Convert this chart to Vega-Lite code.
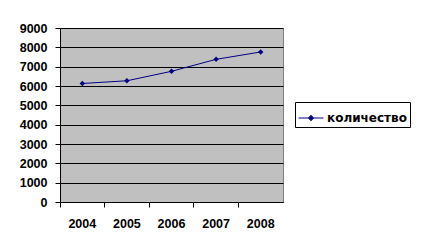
{
  "$schema": "https://vega.github.io/schema/vega-lite/v6.json",
  "width": 223,
  "height": 174,
  "autosize": {"type": "none"},
  "padding": {"left": 60, "top": 28, "right": 144, "bottom": 48},
  "background": "white",
  "config": {
    "view": {"fill": "#C0C0C0", "stroke": "#808080", "strokeWidth": 1},
    "font": "Liberation Sans",
    "axis": {
      "labelFont": "Liberation Sans",
      "labelFontSize": 12.5,
      "labelFontWeight": "bold",
      "labelColor": "black",
      "domainColor": "black",
      "tickColor": "black",
      "tickSize": 5,
      "title": null
    }
  },
  "data": {
    "values": [
      {"year": "2004", "value": 6130, "series": "количество"},
      {"year": "2005", "value": 6270, "series": "количество"},
      {"year": "2006", "value": 6760, "series": "количество"},
      {"year": "2007", "value": 7380, "series": "количество"},
      {"year": "2008", "value": 7760, "series": "количество"}
    ]
  },
  "encoding": {
    "x": {
      "field": "year",
      "type": "ordinal",
      "bandPosition": 0.5,
      "scale": {"type": "band", "paddingInner": 0, "paddingOuter": 0},
      "axis": {"labelAngle": 0, "bandPosition": 0, "labelPadding": 10, "grid": false}
    },
    "y": {
      "field": "value",
      "type": "quantitative",
      "scale": {"domain": [0, 9000], "nice": false},
      "axis": {
        "values": [0, 1000, 2000, 3000, 4000, 5000, 6000, 7000, 8000, 9000],
        "format": "d",
        "grid": true,
        "gridColor": "black",
        "gridOpacity": 1,
        "gridWidth": 1,
        "labelPadding": 8
      }
    }
  },
  "layer": [
    {
      "mark": {"type": "line", "strokeWidth": 1},
      "encoding": {
        "color": {
          "field": "series",
          "type": "nominal",
          "scale": {"range": ["#000080"]},
          "legend": {
            "title": null,
            "orient": "none",
            "legendX": 235,
            "legendY": 74,
            "padding": 3,
            "strokeColor": "black",
            "fillColor": "white",
            "labelFont": "DejaVu Sans",
            "labelFontSize": 12,
            "labelFontWeight": "bold",
            "labelColor": "black",
            "labelOffset": 3,
            "symbolType": "M-1,0H1M0,-0.22L0.2,0L0,0.22L-0.2,0Z",
            "symbolSize": 625,
            "symbolStrokeWidth": 1,
            "symbolStrokeColor": "#000080",
            "symbolFillColor": "#000080",
            "encode": {"symbols": {"update": {"fill": {"value": "#000080"}, "stroke": {"value": "#000080"}}}}
          }
        }
      }
    },
    {
      "mark": {"type": "point", "shape": "diamond", "filled": true, "size": 30, "opacity": 1, "color": "#000080"}
    }
  ]
}
